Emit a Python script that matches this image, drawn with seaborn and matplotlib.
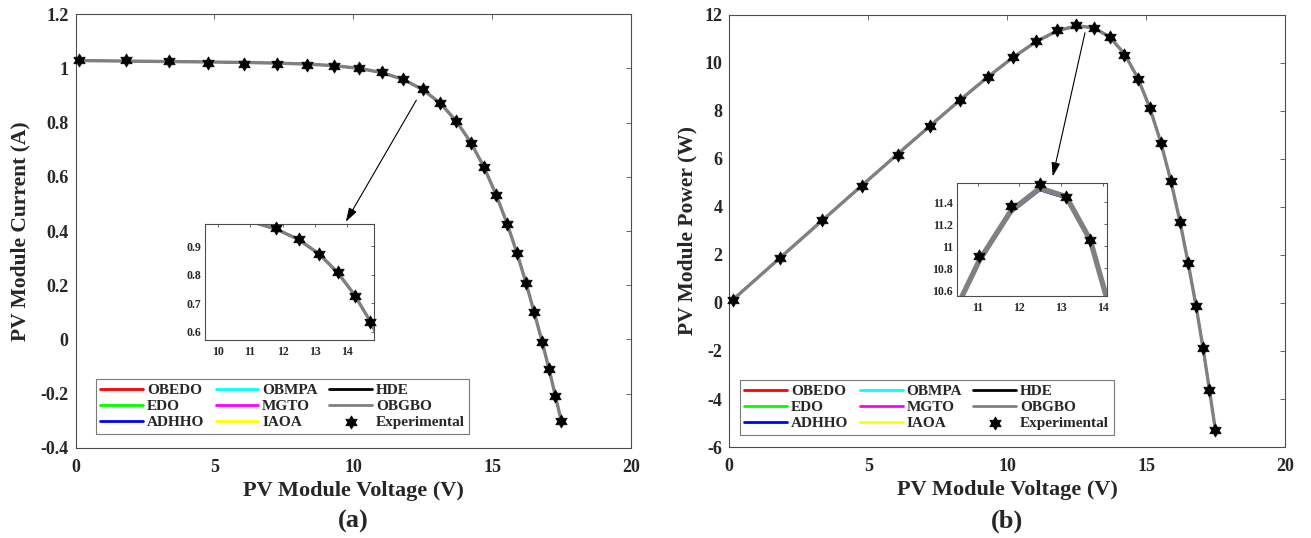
import numpy as np
import matplotlib
matplotlib.use("Agg")
import matplotlib.pyplot as plt
from matplotlib.path import Path
from matplotlib.ticker import FuncFormatter, MultipleLocator
import seaborn as sns

# Photowatt-PWP201 module: measured I-V points
voltage = [0.1248, 1.8093, 3.3511, 4.7622, 6.0538, 7.2364, 8.3189, 9.3097, 10.2163,
           11.0449, 11.8018, 12.4929, 13.1231, 13.6983, 14.2221, 14.6995, 15.1346,
           15.5311, 15.8929, 16.2229, 16.5241, 16.7987, 17.0499, 17.2793, 17.4885]
current_exp = [1.0315, 1.0300, 1.0260, 1.0220, 1.0180, 1.0155, 1.0140, 1.0100, 1.0035,
               0.9880, 0.9630, 0.9255, 0.8725, 0.8075, 0.7265, 0.6345, 0.5345,
               0.4275, 0.3185, 0.2085, 0.1010, -0.0080, -0.1110, -0.2090, -0.3030]

# Currents estimated by each algorithm at the measured voltages
current_obedo = [1.0291, 1.0274, 1.0257, 1.0241, 1.0223, 1.0199, 1.0164, 1.0105, 1.0006,
                 0.9845, 0.9595, 0.9228, 0.8726, 0.8073, 0.7283, 0.6371, 0.5362,
                 0.4295, 0.3188, 0.2074, 0.0962, -0.0083, -0.1109, -0.2092, -0.3009]
current_edo = [1.0296, 1.0279, 1.0261, 1.0244, 1.0225, 1.0200, 1.0163, 1.0102, 1.0001,
               0.9838, 0.9588, 0.9221, 0.8721, 0.8070, 0.7282, 0.6372, 0.5364,
               0.4297, 0.3190, 0.2075, 0.0963, -0.0083, -0.1110, -0.2093, -0.3011]
current_adhho = [1.0290, 1.0273, 1.0256, 1.0239, 1.0221, 1.0196, 1.0160, 1.0099, 0.9998,
                 0.9836, 0.9584, 0.9216, 0.8717, 0.8067, 0.7280, 0.6370, 0.5362,
                 0.4295, 0.3188, 0.2074, 0.0962, -0.0084, -0.1110, -0.2093, -0.3010]
current_obmpa = [1.0291, 1.0274, 1.0257, 1.0241, 1.0223, 1.0199, 1.0164, 1.0105, 1.0006,
                 0.9845, 0.9595, 0.9228, 0.8726, 0.8073, 0.7283, 0.6371, 0.5362,
                 0.4295, 0.3188, 0.2074, 0.0962, -0.0083, -0.1109, -0.2092, -0.3009]
current_mgto = [1.0292, 1.0275, 1.0258, 1.0241, 1.0223, 1.0199, 1.0164, 1.0104, 1.0005,
                0.9844, 0.9594, 0.9227, 0.8726, 0.8073, 0.7283, 0.6371, 0.5362,
                0.4295, 0.3188, 0.2074, 0.0962, -0.0083, -0.1109, -0.2092, -0.3009]
current_iaoa = [1.0293, 1.0276, 1.0259, 1.0242, 1.0224, 1.0200, 1.0165, 1.0105, 1.0006,
                0.9845, 0.9594, 0.9227, 0.8725, 0.8072, 0.7282, 0.6370, 0.5361,
                0.4294, 0.3187, 0.2073, 0.0961, -0.0084, -0.1110, -0.2093, -0.3010]
current_hde = [1.0291, 1.0274, 1.0257, 1.0241, 1.0223, 1.0199, 1.0164, 1.0105, 1.0006,
               0.9845, 0.9595, 0.9228, 0.8726, 0.8073, 0.7283, 0.6371, 0.5362,
               0.4295, 0.3188, 0.2074, 0.0962, -0.0083, -0.1109, -0.2092, -0.3009]
current_obgbo = [1.0291, 1.0274, 1.0257, 1.0241, 1.0223, 1.0199, 1.0164, 1.0105, 1.0006,
                 0.9845, 0.9595, 0.9228, 0.8726, 0.8073, 0.7283, 0.6371, 0.5362,
                 0.4295, 0.3188, 0.2074, 0.0962, -0.0083, -0.1109, -0.2092, -0.3009]

algorithms = ["OBEDO", "EDO", "ADHHO", "OBMPA", "MGTO", "IAOA", "HDE", "OBGBO"]
model_currents = [current_obedo, current_edo, current_adhho, current_obmpa,
                  current_mgto, current_iaoa, current_hde, current_obgbo]
line_colors = ["#ff0000", "#00ff00", "#0000ff", "#00ffff",
               "#ff00ff", "#ffff00", "#000000", "#808080"]

sns.set_theme(style="white")
plt.rcParams["font.family"] = ["Liberation Serif", "DejaVu Serif"]
plt.rcParams["font.weight"] = "bold"
plt.rcParams["axes.labelweight"] = "bold"

# six-pointed star (hexagram) marker
ang_out = np.deg2rad(90 + 60 * np.arange(6))
ang_in = ang_out + np.deg2rad(30)
star_xy = []
for ao, ai in zip(ang_out, ang_in):
    star_xy.append((np.cos(ao), np.sin(ao)))
    star_xy.append((np.cos(ai) / np.sqrt(3), np.sin(ai) / np.sqrt(3)))
star_xy.append(star_xy[0])
hexagram = Path(star_xy, closed=True)

V = np.array(voltage)
I_exp = np.array(current_exp)
P_exp = V * I_exp

fig = plt.figure(figsize=(13.11, 5.38), dpi=100)
ax_a = fig.add_axes([0.0577, 0.1678, 0.4236, 0.8056])
ax_b = fig.add_axes([0.5563, 0.1690, 0.4239, 0.8040])
in_a = fig.add_axes([0.1564, 0.368, 0.1289, 0.2156])
in_b = fig.add_axes([0.7300, 0.4498, 0.1144, 0.2100])

fmt = FuncFormatter(lambda v, _: f"{v:g}")
spine_col = "0.3"


def draw_curves(ax, power, lw_scale=1.0, with_labels=True):
    for name, cur, col in zip(algorithms, model_currents, line_colors):
        y = V * np.array(cur) if power else np.array(cur)
        lw = 2.4 if name == "OBGBO" else 1.3
        sns.lineplot(x=V, y=y, color=col, lw=lw * lw_scale, sort=False,
                     estimator=None, ax=ax, label=name if with_labels else None,
                     legend=False)


def draw_points(ax, power, size, xlim=None, ylim=None):
    y = P_exp if power else I_exp
    x = V
    if xlim is not None:
        keep = (x >= xlim[0]) & (x <= xlim[1]) & (y >= ylim[0]) & (y <= ylim[1])
        x, y = x[keep], y[keep]
    sns.scatterplot(x=x, y=y, marker=hexagram, s=size, color="black",
                    edgecolor="black", linewidth=0.5, ax=ax, zorder=5,
                    clip_on=False, label="Experimental" if xlim is None else None,
                    legend=False)


def style_axes(ax, labelsize, length, xpad, ypad):
    ax.tick_params(direction="in", top=True, right=True, length=length,
                   width=0.6, color=spine_col, labelsize=labelsize,
                   pad=xpad, axis="x")
    ax.tick_params(direction="in", top=True, right=True, length=length,
                   width=0.6, color=spine_col, labelsize=labelsize,
                   pad=ypad, axis="y")
    for s in ax.spines.values():
        s.set_color(spine_col)
        s.set_linewidth(0.8)
    ax.xaxis.set_major_formatter(fmt)
    ax.yaxis.set_major_formatter(fmt)
    for lab in ax.get_xticklabels() + ax.get_yticklabels():
        lab.set_fontweight("bold")
    ax.grid(False)


# ---- (a) current-voltage ----
draw_curves(ax_a, power=False)
draw_points(ax_a, power=False, size=90)
ax_a.set_xlim(0, 20)
ax_a.set_ylim(-0.4, 1.2)
ax_a.xaxis.set_major_locator(MultipleLocator(5))
ax_a.yaxis.set_major_locator(MultipleLocator(0.2))
style_axes(ax_a, 13, 3.5, 8, 5)
ax_a.set_xlabel("PV Module Voltage (V)", fontsize=16, fontweight="bold")
ax_a.set_ylabel("PV Module Current (A)", fontsize=15.5, fontweight="bold")
ax_a.xaxis.set_label_coords(0.5, -0.077)
ax_a.yaxis.set_label_coords(-0.082, 0.5)

# ---- (b) power-voltage ----
draw_curves(ax_b, power=True)
draw_points(ax_b, power=True, size=90)
ax_b.set_xlim(0, 20)
ax_b.set_ylim(-6, 12)
ax_b.xaxis.set_major_locator(MultipleLocator(5))
ax_b.yaxis.set_major_locator(MultipleLocator(2))
style_axes(ax_b, 13, 3.5, 8, 5)
ax_b.set_xlabel("PV Module Voltage (V)", fontsize=16, fontweight="bold")
ax_b.set_ylabel("PV Module Power (W)", fontsize=15.5, fontweight="bold")
ax_b.xaxis.set_label_coords(0.5, -0.077)
ax_b.yaxis.set_label_coords(-0.058, 0.5)

# ---- legends ----
for ax, anchor in ((ax_a, (0.036, 0.032)), (ax_b, (0.019, 0.028))):
    h, l = ax.get_legend_handles_labels()
    leg = ax.legend(h, l, ncol=3, loc="lower left", bbox_to_anchor=anchor,
                    borderaxespad=0, handlelength=2.8,
                    handletextpad=0.25, columnspacing=0.75, labelspacing=0.15,
                    borderpad=0.3, frameon=True, fancybox=False,
                    prop={"weight": "bold", "size": 11})
    leg.get_frame().set_edgecolor("0.35")
    leg.get_frame().set_linewidth(0.8)
    for line in leg.get_lines():
        line.set_linewidth(2.0)

# ---- insets ----
xa, ya = (9.61, 14.82), (0.571, 0.977)
draw_curves(in_a, power=False, with_labels=False)
draw_points(in_a, power=False, size=90, xlim=xa, ylim=ya)
in_a.set_xlim(*xa)
in_a.set_ylim(*ya)
in_a.xaxis.set_major_locator(MultipleLocator(1))
in_a.yaxis.set_major_locator(MultipleLocator(0.1))
style_axes(in_a, 8.5, 2.5, 4, 3)

xb, yb = (10.51, 14.1), (10.55, 11.575)
draw_curves(in_b, power=True, lw_scale=1.6, with_labels=False)
draw_points(in_b, power=True, size=90, xlim=xb, ylim=yb)
in_b.set_xlim(*xb)
in_b.set_ylim(*yb)
in_b.xaxis.set_major_locator(MultipleLocator(1))
in_b.yaxis.set_major_locator(MultipleLocator(0.2))
style_axes(in_b, 8.5, 2.5, 4, 3)

# ---- zoom arrows ----
arrow = dict(arrowstyle="-|>,head_length=0.7,head_width=0.22", color="black",
             lw=0.8, shrinkA=0, shrinkB=0)
ax_a.annotate("", xy=(9.73, 0.434), xytext=(12.27, 0.883), arrowprops=arrow)
ax_b.annotate("", xy=(11.64, 5.26), xytext=(12.8, 11.24), arrowprops=arrow)

# ---- panel tags ----
fig.text(0.2695, 0.031, "(a)", ha="center", va="center", fontsize=19, fontweight="bold")
fig.text(0.7683, 0.031, "(b)", ha="center", va="center", fontsize=19, fontweight="bold")

fig.savefig("out.png", dpi=100)
